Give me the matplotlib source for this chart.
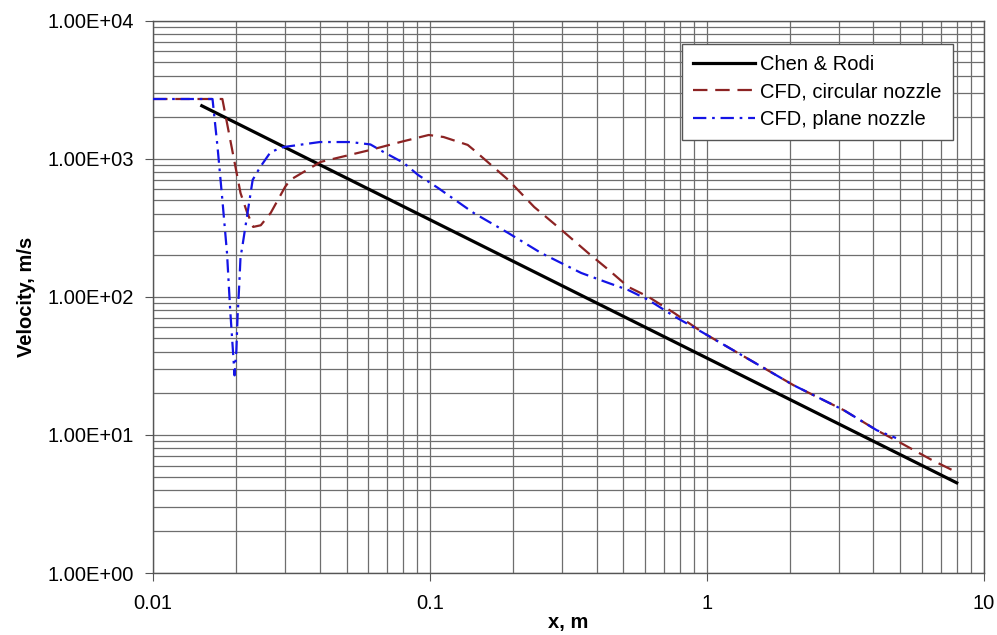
import matplotlib
matplotlib.use("Agg")
import matplotlib.pyplot as plt
from matplotlib.ticker import LogLocator, FuncFormatter, NullFormatter

plt.rcParams['font.family'] = ['Liberation Sans', 'DejaVu Sans']

# Chen & Rodi correlation (straight line in log-log)
chen_x = [0.015, 8.0]
chen_v = [2420, 4.5]

# CFD, circular nozzle
circ_x = [0.01, 0.0178, 0.0207, 0.0219, 0.0230, 0.0245, 0.0266, 0.030, 0.0313,
          0.0403, 0.0611, 0.0785, 0.099, 0.112, 0.137, 0.144, 0.192, 0.238,
          0.299, 0.373, 0.442, 0.521, 0.616, 0.766, 0.97, 2.06, 3.13, 4.12,
          5.05, 6.49, 8.1]
circ_v = [2710, 2710, 565, 405, 321, 330, 405, 626, 703,
          949, 1160, 1325, 1487, 1438, 1260, 1160, 703, 448,
          305, 208, 157, 118, 100, 76, 55, 22.9, 15.1, 10.8,
          8.7, 6.6, 5.3]

# CFD, plane nozzle
plane_x = [0.01, 0.0164, 0.0171, 0.0178, 0.0185, 0.019, 0.0195, 0.0197, 0.0200,
           0.0202, 0.0205, 0.0207, 0.021, 0.0229, 0.0244, 0.0266, 0.0296, 0.040,
           0.0517, 0.061, 0.068, 0.0805, 0.0906, 0.107, 0.144, 0.192, 0.252,
           0.352, 0.442, 0.521, 0.616, 0.766, 0.97, 2.06, 3.13, 4.12, 4.83]
plane_v = [2710, 2710, 1216, 504, 208, 80, 37, 27, 41,
           72, 126, 194, 229, 703, 873, 1120, 1216, 1322,
           1322, 1270, 1120, 933, 764, 615, 405, 290, 208,
           149, 126, 112, 95, 72, 55, 22.9, 15.1, 10.8, 9.5]

fig = plt.figure(figsize=(9.97, 6.35), dpi=100)
ax = fig.add_axes([0.1535, 0.0976, 0.833, 0.8698])

ax.plot(chen_x, chen_v, color='black', lw=2.3, label='Chen & Rodi', zorder=3)
l1, = ax.plot(circ_x, circ_v, color='#8c2323', lw=1.6, label='CFD, circular nozzle', zorder=3)
l1.set_dashes((6.5, 3.5))
l2, = ax.plot(plane_x, plane_v, color='#1414e6', lw=1.6, label='CFD, plane nozzle', zorder=3)
l2.set_dashes((6.0, 2.6, 1.2, 2.6))

ax.set_xscale('log')
ax.set_yscale('log')
ax.set_xlim(0.01, 10)
ax.set_ylim(1, 1e4)

ax.xaxis.set_major_locator(LogLocator(base=10))
ax.xaxis.set_minor_locator(LogLocator(base=10, subs=range(2, 10)))
ax.yaxis.set_major_locator(LogLocator(base=10))
ax.yaxis.set_minor_locator(LogLocator(base=10, subs=range(2, 10)))
ax.xaxis.set_major_formatter(FuncFormatter(lambda v, p: '%g' % v))
ax.yaxis.set_major_formatter(FuncFormatter(lambda v, p: '%.2E' % v))
ax.xaxis.set_minor_formatter(NullFormatter())
ax.yaxis.set_minor_formatter(NullFormatter())

ax.grid(which='both', color='#6e6e6e', lw=0.9)
ax.set_axisbelow(True)
for s in ax.spines.values():
    s.set_color('#555555')
    s.set_linewidth(1.0)

ax.tick_params(which='major', direction='out', length=6, color='#555555', labelsize=14.5)
ax.tick_params(axis='x', which='major', pad=9)
ax.tick_params(axis='y', which='major', pad=8)
ax.tick_params(which='minor', length=0)

ax.set_xlabel('x, m', fontsize=14.5, fontweight='bold', labelpad=0)
ax.set_ylabel('Velocity, m/s', fontsize=14.5, fontweight='bold', labelpad=8)

leg = ax.legend(loc='upper right', bbox_to_anchor=(0.963, 0.958), borderaxespad=0,
                fontsize=14.5, handlelength=3.1, handletextpad=0.25,
                labelspacing=0.42, borderpad=0.55, fancybox=False, framealpha=1)
leg.get_frame().set_edgecolor('#555555')
leg.get_frame().set_linewidth(1.0)

fig.savefig('out.png', dpi=100)
